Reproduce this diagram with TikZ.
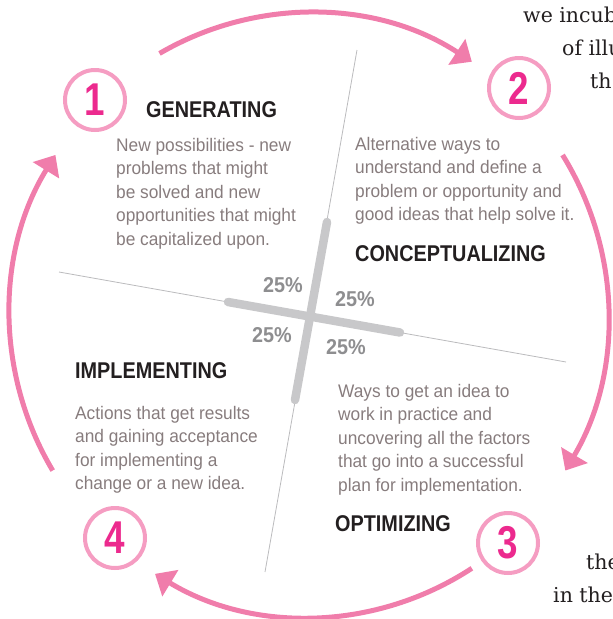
\documentclass[tikz,border=0pt]{standalone}
\usepackage{fontspec}
\setmainfont{Liberation Sans}
\newfontfamily\hdfont[FakeStretch=0.87]{Liberation Sans Bold}
\newfontfamily\numfont[FakeStretch=0.8]{Liberation Sans Bold}
\newfontfamily\pctfont[FakeStretch=0.92]{Liberation Sans Bold}
\newfontfamily\bodyfont[FakeStretch=0.95]{Liberation Sans}
\newfontfamily\serfont{DejaVu Serif}
\usetikzlibrary{arrows.meta}
\definecolor{arcc}{HTML}{F07DAB}
\definecolor{ringc}{HTML}{F59DC2}
\definecolor{numc}{HTML}{EC2A8E}
\definecolor{bodyc}{HTML}{877C7D}
\definecolor{headc}{HTML}{231F20}
\definecolor{lightg}{HTML}{BBBBBD}
\definecolor{barg}{HTML}{C8C8CA}
\definecolor{pctc}{HTML}{8E8E90}
\newcommand\bodypar[1]{\parbox[t]{260pt}{\bodyfont\fontsize{18.2}{23.6}\selectfont\raggedright #1}}
\begin{document}
\begin{tikzpicture}[x=1pt,y=-1pt,
  ring/.style={circle, draw=ringc, line width=4pt, minimum size=60pt, inner sep=0pt, text=numc, font=\numfont\fontsize{46}{46}\selectfont},
  head/.style={anchor=base west, inner sep=0pt, text=headc, font=\hdfont\fontsize{22.8}{22.8}\selectfont},
  body/.style={anchor=base west, inner sep=0pt, text=bodyc},
  pct/.style={anchor=base west, inner sep=0pt, text=pctc, font=\pctfont\fontsize{21.5}{21.5}\selectfont},
  cyc/.style={draw=arcc, line width=5pt, -{Triangle[length=18pt,width=30pt]}},
  thin/.style={draw=lightg, line width=0.8pt},
  bar/.style={draw=barg, line width=8.5pt, line cap=round},
  side/.style={anchor=base west, inner sep=0pt, text=headc, font=\serfont\fontsize{20.5}{20.5}\selectfont}]
\useasboundingbox (0,0) rectangle (613,619);
\clip (0,0) rectangle (613,619);
% thin cross lines
\coordinate (vt) at (357,50);
\coordinate (vb) at (265,572);
\coordinate (hl) at (59,272);
\coordinate (hr) at (566,362);
\draw[thin] (vt) -- (vb);
\draw[thin] (hl) -- (hr);
% thick bars
\coordinate (bt) at (327,222);
\coordinate (bb) at (295,400);
\coordinate (bl) at (228,302);
\coordinate (br) at (400,332.5);
\draw[bar] (bl) -- (br);
\draw[bar] (bt) -- (bb);
% cycle arcs
\coordinate (O) at (309,315);
\draw[cyc] ([shift={(-120:299 and 302)}]O) arc[start angle=-120, end angle=-57, x radius=299, y radius=302];
\draw[cyc] ([shift={(-32:299 and 302)}]O) arc[start angle=-32, end angle=31, x radius=299, y radius=302];
\draw[cyc] ([shift={(57:299 and 302)}]O) arc[start angle=57, end angle=121, x radius=299, y radius=302];
\draw[cyc] ([shift={(149:299 and 302)}]O) arc[start angle=149, end angle=212, x radius=299, y radius=302];
% numbered rings
\node[ring] (n1) at (95,100) {1};
\node[ring] (n2) at (519,88) {2};
\node[ring] (n3) at (508,543) {3};
\node[ring] (n4) at (115,538) {4};
% headings
\node[head] (gen) at (146,117) {GENERATING};
\node[head] (con) at (355,261) {CONCEPTUALIZING};
\node[head] (imp) at (75,378) {IMPLEMENTING};
\node[head] (opt) at (335,531) {OPTIMIZING};
% bodies
\node[body] (genb) at (116,151) {\bodypar{New possibilities - new\\problems that might\\be solved and new\\opportunities that might\\be capitalized upon.}};
\node[body] (conb) at (355,150) {\bodypar{Alternative ways to\\understand and define a\\problem or opportunity and\\good ideas that help solve it.}};
\node[body] (impb) at (75,419) {\bodypar{Actions that get results\\and gaining acceptance\\for implementing a\\change or a new idea.}};
\node[body] (optb) at (338,397) {\bodypar{Ways to get an idea to\\work in practice and\\uncovering all the factors\\that go into a successful\\plan for implementation.}};
% percentages
\node[pct] (p1) at (263,292) {25\%};
\node[pct] (p2) at (335,306) {25\%};
\node[pct] (p3) at (252,342) {25\%};
\node[pct] (p4) at (326,354) {25\%};
% clipped side text
\node[side] (s1) at (523,22) {we incub};
\node[side] (s2) at (562,55) {of illu};
\node[side] (s3) at (590,88) {th};
\node[side] (s4) at (586,569) {the};
\node[side] (s5) at (553,602) {in the};
\end{tikzpicture}
\end{document}
